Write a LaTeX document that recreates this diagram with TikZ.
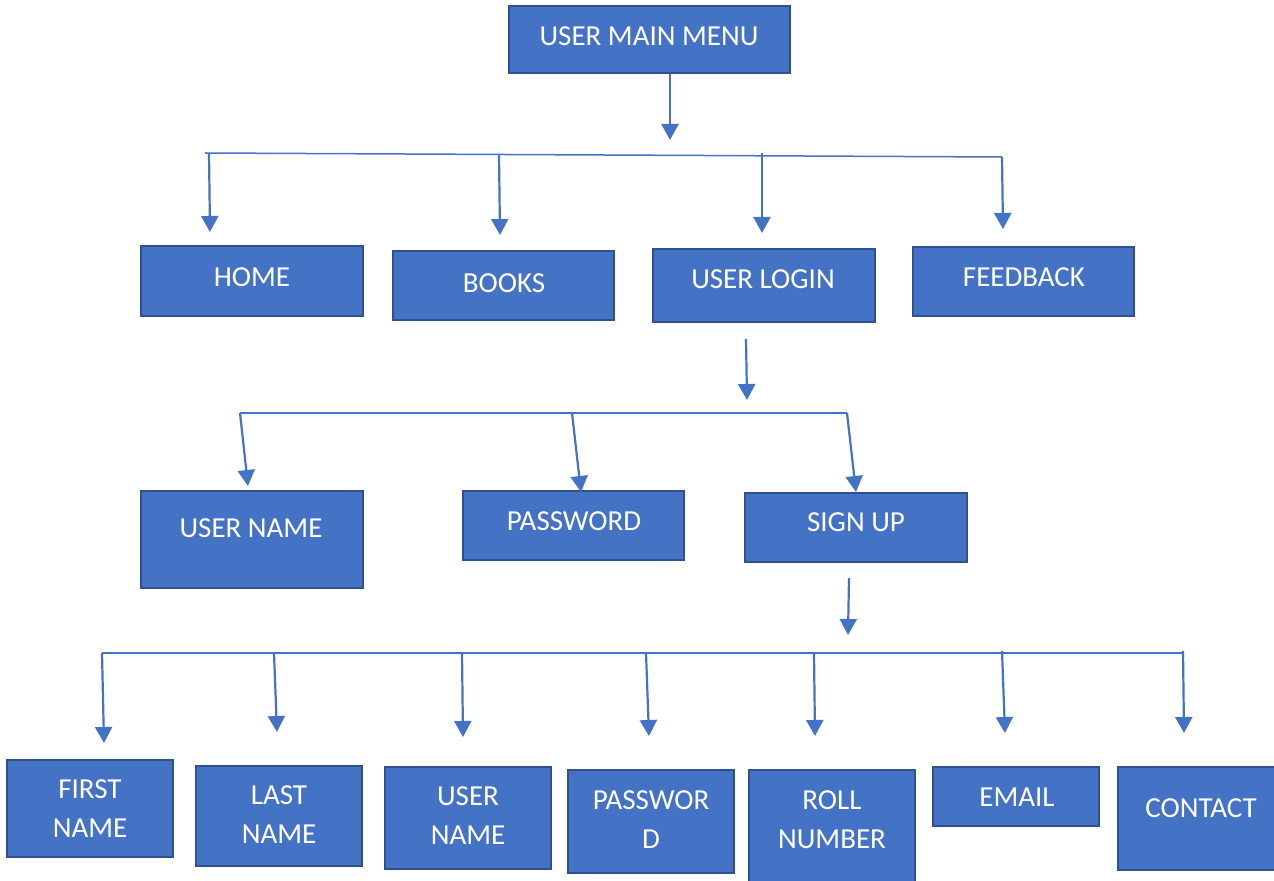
\documentclass[tikz,border=0pt]{standalone}
\usepackage{fontspec}
\setmainfont{Carlito}
\usetikzlibrary{arrows.meta,fit}
\definecolor{boxfill}{HTML}{4472C4}
\definecolor{boxedge}{HTML}{2F528F}
\definecolor{wire}{HTML}{4472C4}
\tikzset{
  box/.style={draw=boxedge, fill=boxfill, line width=1.2pt, inner sep=0pt, rectangle},
  lbl/.style={text=white, align=center, inner sep=0pt,
    font=\fontsize{14.5}{19.5}\selectfont},
  arr/.style={draw=wire, line width=1.1pt, -{Triangle[width=8.5pt,length=8pt]}},
  bus/.style={draw=wire, line width=0.75pt}
}
\begin{document}
\begin{tikzpicture}[x=0.5pt, y=-0.5pt]
\useasboundingbox (0,0) rectangle (1274,881);
\clip (0,0) rectangle (1274,881);

% ---- boxes ----
\node[box, fit={(509,6) (790,73)}]      (main)     {};
\node[box, fit={(141,246) (363,316)}]   (home)     {};
\node[box, fit={(393,251) (614,320)}]   (books)    {};
\node[box, fit={(653,249) (875,322)}]   (login)    {};
\node[box, fit={(913,247) (1134,316)}]  (feedback) {};
\node[box, fit={(141,491) (363,588)}]   (uname)    {};
\node[box, fit={(463,491) (684,560)}]   (pwd)      {};
\node[box, fit={(745,493) (967,562)}]   (signup)   {};
\node[box, fit={(7,760) (173,857)}]     (first)    {};
\node[box, fit={(196,766) (362,866)}]   (last)     {};
\node[box, fit={(385,767) (551,869)}]   (uname2)   {};
\node[box, fit={(568,770) (734,873)}]   (pwd2)     {};
\node[box, fit={(749,770) (915,890)}]   (roll)     {};
\node[box, fit={(933,767) (1099,826)}]  (email)    {};
\node[box, fit={(1118,767) (1290,870)}] (contact)  {};

% ---- labels ----
\node[lbl] (mainT)     at (649,36)   {USER MAIN MENU};
\node[lbl] (homeT)     at (252,277)  {HOME};
\node[lbl] (booksT)    at (504,283)  {BOOKS};
\node[lbl] (loginT)    at (763,279)  {USER LOGIN};
\node[lbl] (feedbackT) at (1024,277) {FEEDBACK};
\node[lbl] (unameT)    at (251,528)  {USER NAME};
\node[lbl] (pwdT)      at (574,521)  {PASSWORD};
\node[lbl] (signupT)   at (856,522)  {SIGN UP};
\node[lbl] (firstT)    at (90,809)   {FIRST\\NAME};
\node[lbl] (lastT)     at (279,815)  {LAST\\NAME};
\node[lbl] (uname2T)   at (468,816)  {USER\\NAME};
\node[lbl] (pwd2T)     at (651,820)  {PASSWOR\\D};
\node[lbl] (rollT)     at (832,820)  {ROLL\\NUMBER};
\node[lbl] (emailT)    at (1017,797) {EMAIL};
\node[lbl] (contactT)  at (1201,808) {CONTACT};

% ---- connector points ----
\coordinate (m0) at (670,140);
\coordinate (b1L) at (205,153);
\coordinate (b1R) at (1002,157);
\coordinate (d1a) at (209,153);  \coordinate (t1a) at (210,232);
\coordinate (d1b) at (499,155);  \coordinate (t1b) at (500,235);
\coordinate (d1c) at (762,153);  \coordinate (t1c) at (762,233);
\coordinate (d1d) at (1002,157); \coordinate (t1d) at (1003,229);

\coordinate (l0) at (746,339);   \coordinate (l1) at (747,400);
\coordinate (b2L) at (240,413);
\coordinate (b2R) at (847,413);
\coordinate (d2a) at (240,413);  \coordinate (t2a) at (248,486);
\coordinate (d2b) at (572,413);  \coordinate (t2b) at (581,492);
\coordinate (d2c) at (847,413);  \coordinate (t2c) at (856,492);

\coordinate (s0) at (849,578);   \coordinate (s1) at (848,635);
\coordinate (b3L) at (102,653);
\coordinate (b3R) at (1183,653);
\coordinate (d3a) at (102,653);  \coordinate (t3a) at (104,743);
\coordinate (d3b) at (274,653);  \coordinate (t3b) at (277,732);
\coordinate (d3c) at (462,653);  \coordinate (t3c) at (463,737);
\coordinate (d3d) at (646,653);  \coordinate (t3d) at (649,736);
\coordinate (d3e) at (814,653);  \coordinate (t3e) at (815,736);
\coordinate (d3f) at (1002,651); \coordinate (t3f) at (1005,733);
\coordinate (d3g) at (1183,651); \coordinate (t3g) at (1184,733);

% ---- first level ----
\draw[arr] (main.south -| m0) -- (m0);
\draw[bus] (b1L) -- (b1R);
\draw[arr] (d1a) -- (t1a);
\draw[arr] (d1b) -- (t1b);
\draw[arr] (d1c) -- (t1c);
\draw[arr] (d1d) -- (t1d);

% ---- login level ----
\draw[arr] (l0) -- (l1);
\draw[bus] (b2L) -- (b2R);
\draw[arr] (d2a) -- (t2a);
\draw[arr] (d2b) -- (t2b);
\draw[arr] (d2c) -- (t2c);

% ---- sign up level ----
\draw[arr] (s0) -- (s1);
\draw[bus] (b3L) -- (b3R);
\draw[arr] (d3a) -- (t3a);
\draw[arr] (d3b) -- (t3b);
\draw[arr] (d3c) -- (t3c);
\draw[arr] (d3d) -- (t3d);
\draw[arr] (d3e) -- (t3e);
\draw[arr] (d3f) -- (t3f);
\draw[arr] (d3g) -- (t3g);
\end{tikzpicture}
\end{document}
